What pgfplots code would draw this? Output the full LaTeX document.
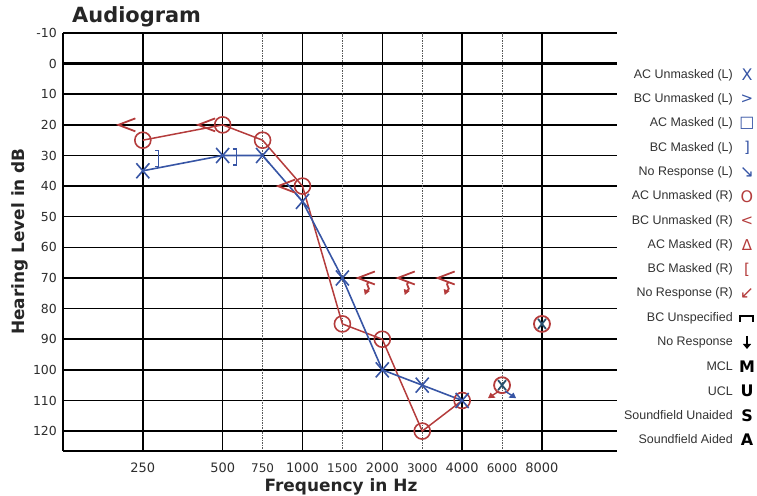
\documentclass[border=0pt]{standalone}
\usepackage{fontspec}
\setmainfont{DejaVu Sans}
\newfontfamily\legfont{Liberation Sans}
\usepackage{pgfplots}
\pgfplotsset{compat=1.18}
\usetikzlibrary{arrows.meta}
\definecolor{lblue}{RGB}{55,85,165}
\definecolor{rred}{RGB}{180,60,60}
\definecolor{txt}{RGB}{45,45,45}
\definecolor{legtxt}{RGB}{50,50,50}
\definecolor{teal2}{RGB}{40,80,110}

\pgfdeclareplotmark{audX}{%
 \pgfpathmoveto{\pgfpoint{-6.5bp}{-7.5bp}}\pgfpathlineto{\pgfpoint{6.5bp}{7.5bp}}%
 \pgfpathmoveto{\pgfpoint{-6.5bp}{7.5bp}}\pgfpathlineto{\pgfpoint{6.5bp}{-7.5bp}}%
 \pgfusepathqstroke}
\pgfdeclareplotmark{audXs}{%
 \pgfpathmoveto{\pgfpoint{-4bp}{-5bp}}\pgfpathlineto{\pgfpoint{4bp}{5bp}}%
 \pgfpathmoveto{\pgfpoint{-4bp}{5bp}}\pgfpathlineto{\pgfpoint{4bp}{-5bp}}%
 \pgfusepathqstroke}
\pgfdeclareplotmark{audO}{\pgfpathcircle{\pgfpointorigin}{8bp}\pgfusepathqstroke}
\pgfdeclareplotmark{audLT}{%
 \pgfpathmoveto{\pgfpoint{8.5bp}{6.5bp}}\pgfpathlineto{\pgfpoint{-8.5bp}{0bp}}\pgfpathlineto{\pgfpoint{8.5bp}{-6.5bp}}%
 \pgfusepathqstroke}
\pgfdeclareplotmark{audRB}{%
 \pgfpathmoveto{\pgfpoint{-3.5bp}{8bp}}\pgfpathlineto{\pgfpoint{0bp}{8bp}}\pgfpathlineto{\pgfpoint{0bp}{-8bp}}\pgfpathlineto{\pgfpoint{-3.5bp}{-8bp}}%
 \pgfusepathqstroke}
\pgfdeclareplotmark{audLTnr}{%
 \pgfpathmoveto{\pgfpoint{8.5bp}{6.5bp}}\pgfpathlineto{\pgfpoint{-8.5bp}{0bp}}\pgfpathlineto{\pgfpoint{8.5bp}{-6.5bp}}%
 \pgfpathmoveto{\pgfpoint{3bp}{-4bp}}\pgfpathcurveto{\pgfpoint{-3bp}{-7bp}}{\pgfpoint{6bp}{-10bp}}{\pgfpoint{1bp}{-13bp}}%
 \pgfusepathqstroke
 \pgfpathmoveto{\pgfpoint{-2.5bp}{-11bp}}\pgfpathlineto{\pgfpoint{3.5bp}{-13bp}}\pgfpathlineto{\pgfpoint{-1.5bp}{-17bp}}\pgfpathclose\pgfusepathqfill}
\pgfdeclareplotmark{nrDR}{%
 \pgfpathmoveto{\pgfpoint{3bp}{-6bp}}\pgfpathlineto{\pgfpoint{11bp}{-11bp}}\pgfusepathqstroke
 \pgfpathmoveto{\pgfpoint{14bp}{-13bp}}\pgfpathlineto{\pgfpoint{6.5bp}{-12.5bp}}\pgfpathlineto{\pgfpoint{11.5bp}{-7.5bp}}\pgfpathclose\pgfusepathqfill}
\pgfdeclareplotmark{nrDL}{%
 \pgfpathmoveto{\pgfpoint{-3bp}{-6bp}}\pgfpathlineto{\pgfpoint{-11bp}{-11bp}}\pgfusepathqstroke
 \pgfpathmoveto{\pgfpoint{-14bp}{-13bp}}\pgfpathlineto{\pgfpoint{-6.5bp}{-12.5bp}}\pgfpathlineto{\pgfpoint{-11.5bp}{-7.5bp}}\pgfpathclose\pgfusepathqfill}

\newcommand\legrow[2]{%
 \node[anchor=east, inner sep=0pt, font=\legfont\fontsize{12.5}{12.5}\selectfont, text=legtxt] at (733bp,#1bp) {#2};}
\newcommand\legsym[2]{%
 \node[inner sep=0pt] at (747bp,#1bp) {#2};}

\begin{document}
\begin{tikzpicture}
\useasboundingbox (0,0) rectangle (757bp,496bp);
\begin{axis}[
 at={(63bp,45bp)}, anchor=south west,
 scale only axis, width=554bp, height=418bp,
 xmin=-1, xmax=5.94, ymin=-10, ymax=126.5, y dir=reverse,
 axis line style={draw=none},
 xtick={0,1,2,3,4,5}, xticklabels={250,500,1000,2000,4000,8000},
 extra x ticks={1.5,2.5,3.5,4.5}, extra x tick labels={750,1500,3000,6000},
 extra x tick style={grid=major, major x grid style={densely dotted, black!65, line width=1.1bp},
   xticklabel style={font=\fontsize{12}{12}\selectfont}},
 ytick={-10,10,20,30,40,50,60,70,80,90,100,110,120},
 extra y ticks={0}, extra y tick style={grid=major, major y grid style={black, line width=2.6bp}},
 grid=major,
 major x grid style={black, line width=1.5bp},
 major y grid style={black, line width=1.5bp},
 major tick length=0pt,
 tick label style={text=txt},
 xticklabel style={font=\fontsize{13}{13}\selectfont, anchor=north, inner sep=0pt, yshift=-12bp},
 yticklabel style={font=\fontsize{12.5}{13}\selectfont, anchor=east, inner sep=0pt, xshift=-6bp},
 /pgf/number format/assume math mode=true,
 clip=false,
]
% Right ear AC unmasked (circles)
\addplot[rred, line width=1.5bp, mark=audO, mark options={solid, line width=1.6bp}]
 coordinates {(0,25)(1,20)(1.5,25)(2,40)(2.5,85)(3,90)(3.5,120)(4,110)};
% Left ear AC unmasked (X)
\addplot[lblue, line width=1.6bp, mark=audX, mark options={solid, line width=1.6bp}]
 coordinates {(0,35)(1,30)(1.5,30)(2,45)(2.5,70)(3,100)(3.5,105)(4,110)};
% Right BC unmasked
\addplot[rred, only marks, mark=audLT, mark options={line width=1.8bp}]
 coordinates {(-0.2,20)(0.8,20)(1.8,40)};
% Right BC no response
\addplot[rred, only marks, mark=audLTnr, mark options={line width=1.8bp, fill=rred}]
 coordinates {(2.8,70)(3.3,70)(3.8,70)};
% Left BC masked
\addplot[lblue, only marks, mark=audRB, mark options={line width=1.4bp}]
 coordinates {(0.2,31)(1.17,30.5)};
% 6000 / 8000 points
\addplot[rred, only marks, mark=audO, mark options={line width=1.8bp}]
 coordinates {(4.5,105)(5,85)};
\addplot[teal2, only marks, mark=audXs, mark options={line width=1.8bp}]
 coordinates {(4.5,105)(5,85)};
\addplot[lblue, only marks, mark=nrDR, mark options={line width=1.4bp, fill=lblue}]
 coordinates {(4.5,105)};
\addplot[rred, only marks, mark=nrDL, mark options={line width=1.4bp, fill=rred}]
 coordinates {(4.5,105)};
% axis lines
\draw[black, line width=1.6bp] (axis cs:-1,-10) -- (axis cs:-1,126.5);
\draw[black, line width=2.2bp] (axis cs:-1,126.5) -- (axis cs:5.94,126.5);
\end{axis}
% titles
\node[anchor=base west, inner sep=0pt, font=\bfseries\fontsize{21}{21}\selectfont, text=black!85] at (72bp,473bp) {Audiogram};
\node[rotate=90, inner sep=0pt, font=\bfseries\fontsize{17}{17}\selectfont, text=black!85] at (20bp,254.5bp) {Hearing Level in dB};
\node[anchor=base, inner sep=0pt, font=\bfseries\fontsize{17}{17}\selectfont, text=black!85] at (341bp,5bp) {Frequency in Hz};
% legend
\legrow{421}{AC Unmasked (L)}      \legsym{421}{\fontsize{16}{16}\selectfont\color{lblue}X}
\legrow{396.7}{BC Unmasked (L)}    \legsym{396.7}{\fontsize{15}{15}\selectfont\color{lblue}>}
\legrow{372.4}{AC Masked (L)}      \legsym{372.4}{\fontsize{16}{16}\selectfont\color{lblue}□}
\legrow{348.1}{BC Masked (L)}      \legsym{348.1}{\fontsize{15}{15}\selectfont\color{lblue}]}
\legrow{323.8}{No Response (L)}    \legsym{323.8}{\fontsize{17}{17}\selectfont\color{lblue}↘}
\legrow{299.5}{AC Unmasked (R)}    \legsym{299.5}{\fontsize{16}{16}\selectfont\color{rred}O}
\legrow{275.2}{BC Unmasked (R)}    \legsym{275.2}{\fontsize{15}{15}\selectfont\color{rred}<}
\legrow{250.9}{AC Masked (R)}      \legsym{250.9}{\fontsize{15}{15}\selectfont\color{rred}Δ}
\legrow{226.6}{BC Masked (R)}      \legsym{226.6}{\fontsize{15}{15}\selectfont\color{rred}[}
\legrow{202.3}{No Response (R)}    \legsym{202.3}{\fontsize{17}{17}\selectfont\color{rred}↙}
\legrow{178}{BC Unspecified}
\draw[black, line width=2bp] (740bp,174bp) -- (740bp,180bp) -- (753bp,180bp) -- (753bp,174bp);
\legrow{153.7}{No Response}
\draw[black, line width=2.2bp, -{Triangle[length=5bp,width=8bp]}] (747bp,160bp) -- (747bp,147bp);
\legrow{129.4}{MCL}                \legsym{129.4}{\bfseries\fontsize{16}{16}\selectfont M}
\legrow{105.1}{UCL}                \legsym{105.1}{\bfseries\fontsize{16}{16}\selectfont U}
\legrow{80.8}{Soundfield Unaided}  \legsym{80.8}{\bfseries\fontsize{16}{16}\selectfont S}
\legrow{56.5}{Soundfield Aided}    \legsym{56.5}{\bfseries\fontsize{16}{16}\selectfont A}
\end{tikzpicture}
\end{document}
